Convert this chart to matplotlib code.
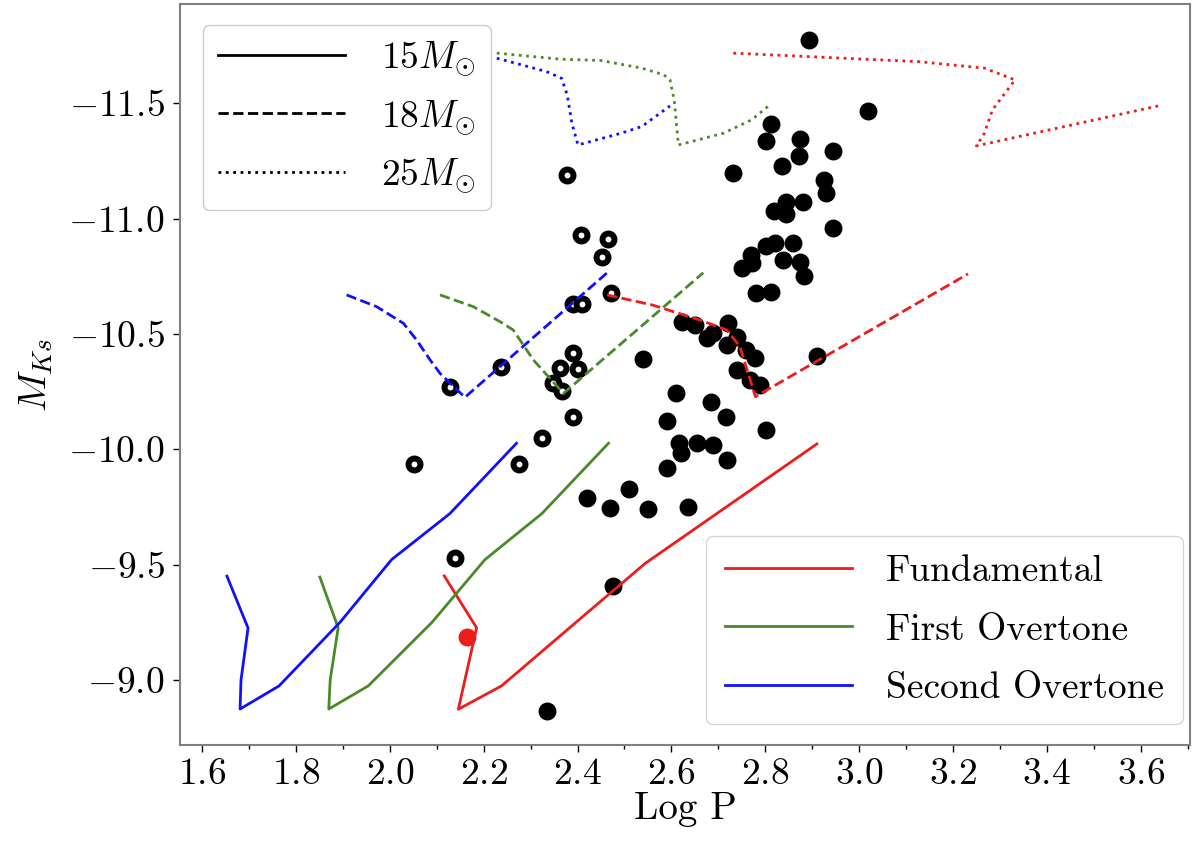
import matplotlib
matplotlib.use("Agg")
import matplotlib.pyplot as plt
import numpy as np
from matplotlib.lines import Line2D
from matplotlib.ticker import MultipleLocator, FuncFormatter

plt.rcParams['font.family'] = 'cmr10'
plt.rcParams['mathtext.fontset'] = 'cm'
plt.rcParams['axes.formatter.use_mathtext'] = True

## observed stars (Log P, M_Ks)
filled_logp = [2.893, 3.019, 2.812, 2.802, 2.873, 2.871, 2.835, 2.944, 2.731, 2.925,
               2.930, 2.845, 2.880, 2.819, 2.845, 2.944, 2.802, 2.821, 2.860, 2.769,
               2.751, 2.771, 2.837, 2.874, 2.883, 2.780, 2.812, 2.910,
               2.622, 2.650, 2.675, 2.689, 2.721, 2.718, 2.739, 2.760, 2.778, 2.739,
               2.767, 2.789,
               2.539, 2.610, 2.684, 2.590, 2.716, 2.801, 2.617, 2.621, 2.655, 2.688,
               2.718, 2.590, 2.510, 2.469, 2.551, 2.636, 2.475, 2.420, 2.334]
filled_mk = [-11.775, -11.467, -11.409, -11.338, -11.344, -11.271, -11.229, -11.293, -11.199, -11.167,
             -11.110, -11.073, -11.073, -11.034, -11.019, -10.958, -10.881, -10.896, -10.896, -10.842,
             -10.784, -10.806, -10.820, -10.813, -10.751, -10.676, -10.683, -10.404,
             -10.553, -10.539, -10.481, -10.503, -10.546, -10.452, -10.488, -10.430, -10.394, -10.343,
             -10.300, -10.278,
             -10.390, -10.242, -10.206, -10.124, -10.138, -10.083, -10.026, -9.983, -10.028, -10.018,
             -9.953, -9.920, -9.827, -9.744, -9.739, -9.751, -9.407, -9.787, -8.866]

open_logp = [2.377, 2.407, 2.466, 2.452, 2.471, 2.391, 2.409, 2.237, 2.128, 2.391,
             2.363, 2.400, 2.348, 2.366, 2.391, 2.325, 2.052, 2.275, 2.139]
open_mk = [-11.189, -10.929, -10.912, -10.832, -10.679, -10.630, -10.630, -10.358, -10.271, -10.418,
           -10.351, -10.348, -10.288, -10.254, -10.141, -10.047, -9.936, -9.936, -9.528]

red_logp = [2.165]
red_mk = [-9.187]

## model tracks: 15 Msun (solid)
f15_logp = [2.116, 2.185, 2.146, 2.238, 2.390, 2.544, 2.910]
f15_mk = [-9.451, -9.226, -8.873, -8.974, -9.238, -9.505, -10.023]
o1_15_logp = [1.851, 1.890, 1.873, 1.870, 1.954, 2.090, 2.203, 2.324, 2.466]
o1_15_mk = [-9.446, -9.226, -9.000, -8.874, -8.974, -9.250, -9.522, -9.721, -10.026]
o2_15_logp = [1.653, 1.698, 1.683, 1.681, 1.764, 1.894, 2.004, 2.128, 2.270]
o2_15_mk = [-9.450, -9.225, -9.000, -8.874, -8.974, -9.250, -9.522, -9.721, -10.026]

## 18 Msun (dashed)
f18_logp = [2.463, 2.560, 2.661, 2.718, 2.746, 2.779, 3.232]
f18_mk = [-10.669, -10.625, -10.560, -10.517, -10.445, -10.228, -10.760]
o1_18_logp = [2.107, 2.178, 2.235, 2.263, 2.306, 2.370, 2.668]
o1_18_mk = [-10.669, -10.618, -10.553, -10.517, -10.387, -10.242, -10.765]
o2_18_logp = [1.908, 1.972, 2.029, 2.057, 2.086, 2.107, 2.160, 2.466]
o2_18_mk = [-10.669, -10.618, -10.546, -10.474, -10.387, -10.329, -10.225, -10.770]

## 25 Msun (dotted)
f25_logp = [2.732, 3.128, 3.267, 3.332, 3.284, 3.267, 3.250, 3.637]
f25_mk = [-11.717, -11.680, -11.652, -11.601, -11.471, -11.370, -11.315, -11.488]
o1_25_logp = [2.228, 2.363, 2.450, 2.537, 2.584, 2.597, 2.606, 2.615, 2.711, 2.771, 2.810]
o1_25_mk = [-11.717, -11.691, -11.685, -11.652, -11.623, -11.601, -11.514, -11.319, -11.370, -11.428, -11.493]
o2_25_logp = [2.228, 2.334, 2.366, 2.378, 2.388, 2.401, 2.493, 2.537, 2.597]
o2_25_mk = [-11.695, -11.637, -11.608, -11.536, -11.413, -11.319, -11.370, -11.399, -11.488]

red = '#ee1c1c'
green = '#4a8a2a'
blue = '#1010ff'

fig = plt.figure(figsize=(11.99, 8.5), dpi=100)
ax = fig.add_axes([180 / 1199, 1 - 745 / 850, 1010 / 1199, 741 / 850])

ms, mew = 8.6, 4.3
ax.plot(filled_logp, filled_mk, 'o', color='k', ms=ms, mew=mew, mfc='k')
ax.plot(open_logp, open_mk, 'o', color='k', ms=ms, mew=mew, mfc='white')
ax.plot(red_logp, red_mk, 'o', color=red, ms=ms, mew=mew, mfc=red)

lw = 2.0
ax.plot(f15_logp, f15_mk, '-', color=red, lw=lw)
ax.plot(o1_15_logp, o1_15_mk, '-', color=green, lw=lw)
ax.plot(o2_15_logp, o2_15_mk, '-', color=blue, lw=lw)
ax.plot(f18_logp, f18_mk, '--', color=red, lw=lw)
ax.plot(o1_18_logp, o1_18_mk, '--', color=green, lw=lw)
ax.plot(o2_18_logp, o2_18_mk, '--', color=blue, lw=lw)
ax.plot(f25_logp, f25_mk, ':', color=red, lw=lw)
ax.plot(o1_25_logp, o1_25_mk, ':', color=green, lw=lw)
ax.plot(o2_25_logp, o2_25_mk, ':', color=blue, lw=lw)

ax.set_xlim(1.553, 3.705)
ax.set_ylim(-8.718, -11.93)

ax.set_xticks(np.arange(1.6, 3.61, 0.2))
ax.xaxis.set_minor_locator(MultipleLocator(0.1))
ax.set_yticks([-11.5, -11.0, -10.5, -10.0, -9.5, -9.0])
fmt = FuncFormatter(lambda v, p: r'$%.1f$' % v)
ax.xaxis.set_major_formatter(fmt)
ax.yaxis.set_major_formatter(fmt)
ax.tick_params(which='major', length=5, width=1, labelsize=27, pad=4)
ax.tick_params(which='minor', length=3, width=1)
ax.tick_params(axis='y', pad=6)

for s in ax.spines.values():
    s.set_color('#808080')
    s.set_linewidth(1.5)

ax.set_xlabel('Log P', fontsize=28, labelpad=0)
ax.set_ylabel(r'$M_{Ks}$', fontsize=28, labelpad=10)

mass_handles = [Line2D([], [], color='k', ls='-', lw=lw),
                Line2D([], [], color='k', ls='--', lw=lw),
                Line2D([], [], color='k', ls=':', lw=lw)]
leg1 = ax.legend(mass_handles, [r'$15M_{\odot}$', r'$18M_{\odot}$', r'$25M_{\odot}$'],
                 loc='upper left', bbox_to_anchor=(0.0225, 0.9717), borderaxespad=0,
                 fontsize=27, handlelength=3.4, handletextpad=0.95, labelspacing=0.54,
                 framealpha=1)
ax.add_artist(leg1)

mode_handles = [Line2D([], [], color=red, lw=lw),
                Line2D([], [], color=green, lw=lw),
                Line2D([], [], color=blue, lw=lw)]
ax.legend(mode_handles, ['Fundamental', 'First Overtone', 'Second Overtone'],
          loc='lower right', bbox_to_anchor=(0.9928, 0.0283), borderaxespad=0,
          fontsize=27, handlelength=3.4, handletextpad=0.9, labelspacing=0.68,
          borderpad=0.5)

fig.savefig('out.png', dpi=100)
